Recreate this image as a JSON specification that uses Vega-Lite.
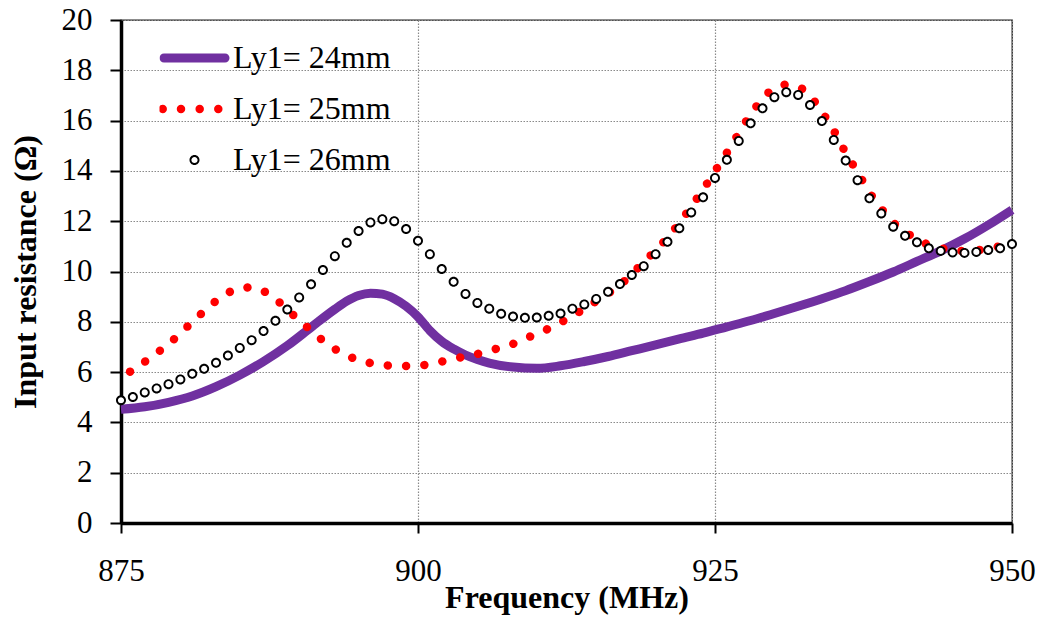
{
  "$schema": "https://vega.github.io/schema/vega-lite/v6.json",
  "width": 891,
  "height": 503,
  "autosize": "none",
  "padding": {"left": 121, "top": 20, "right": 31, "bottom": 95},
  "background": "white",
  "config": {
    "font": "Liberation Serif",
    "view": {"stroke": "#1a1a1a", "strokeWidth": 1.3}
  },
  "datasets": {
    "curves": [
      {"f": 875, "r": 4.52, "series": "Ly1= 24mm"},
      {"f": 877, "r": 4.62, "series": "Ly1= 24mm"},
      {"f": 879, "r": 4.80, "series": "Ly1= 24mm"},
      {"f": 881, "r": 5.05, "series": "Ly1= 24mm"},
      {"f": 883, "r": 5.42, "series": "Ly1= 24mm"},
      {"f": 885, "r": 5.88, "series": "Ly1= 24mm"},
      {"f": 887, "r": 6.42, "series": "Ly1= 24mm"},
      {"f": 889, "r": 7.05, "series": "Ly1= 24mm"},
      {"f": 891, "r": 7.78, "series": "Ly1= 24mm"},
      {"f": 893, "r": 8.50, "series": "Ly1= 24mm"},
      {"f": 894, "r": 8.82, "series": "Ly1= 24mm"},
      {"f": 895, "r": 9.05, "series": "Ly1= 24mm"},
      {"f": 896, "r": 9.14, "series": "Ly1= 24mm"},
      {"f": 897, "r": 9.10, "series": "Ly1= 24mm"},
      {"f": 898, "r": 8.92, "series": "Ly1= 24mm"},
      {"f": 899, "r": 8.62, "series": "Ly1= 24mm"},
      {"f": 900, "r": 8.20, "series": "Ly1= 24mm"},
      {"f": 901, "r": 7.65, "series": "Ly1= 24mm"},
      {"f": 902, "r": 7.22, "series": "Ly1= 24mm"},
      {"f": 903, "r": 6.92, "series": "Ly1= 24mm"},
      {"f": 904, "r": 6.68, "series": "Ly1= 24mm"},
      {"f": 905, "r": 6.50, "series": "Ly1= 24mm"},
      {"f": 906, "r": 6.36, "series": "Ly1= 24mm"},
      {"f": 908, "r": 6.20, "series": "Ly1= 24mm"},
      {"f": 910, "r": 6.15, "series": "Ly1= 24mm"},
      {"f": 912, "r": 6.25, "series": "Ly1= 24mm"},
      {"f": 914, "r": 6.42, "series": "Ly1= 24mm"},
      {"f": 916, "r": 6.62, "series": "Ly1= 24mm"},
      {"f": 918, "r": 6.85, "series": "Ly1= 24mm"},
      {"f": 920, "r": 7.08, "series": "Ly1= 24mm"},
      {"f": 922, "r": 7.32, "series": "Ly1= 24mm"},
      {"f": 924, "r": 7.55, "series": "Ly1= 24mm"},
      {"f": 926, "r": 7.80, "series": "Ly1= 24mm"},
      {"f": 928, "r": 8.05, "series": "Ly1= 24mm"},
      {"f": 930, "r": 8.33, "series": "Ly1= 24mm"},
      {"f": 932, "r": 8.62, "series": "Ly1= 24mm"},
      {"f": 934, "r": 8.92, "series": "Ly1= 24mm"},
      {"f": 936, "r": 9.24, "series": "Ly1= 24mm"},
      {"f": 938, "r": 9.60, "series": "Ly1= 24mm"},
      {"f": 940, "r": 9.98, "series": "Ly1= 24mm"},
      {"f": 942, "r": 10.40, "series": "Ly1= 24mm"},
      {"f": 944, "r": 10.82, "series": "Ly1= 24mm"},
      {"f": 946, "r": 11.30, "series": "Ly1= 24mm"},
      {"f": 948, "r": 11.85, "series": "Ly1= 24mm"},
      {"f": 950, "r": 12.45, "series": "Ly1= 24mm"},

      {"f": 875, "r": 5.72, "series": "Ly1= 25mm"},
      {"f": 876, "r": 6.10, "series": "Ly1= 25mm"},
      {"f": 877, "r": 6.41, "series": "Ly1= 25mm"},
      {"f": 878, "r": 6.75, "series": "Ly1= 25mm"},
      {"f": 879, "r": 7.13, "series": "Ly1= 25mm"},
      {"f": 880, "r": 7.53, "series": "Ly1= 25mm"},
      {"f": 881, "r": 8.00, "series": "Ly1= 25mm"},
      {"f": 882, "r": 8.42, "series": "Ly1= 25mm"},
      {"f": 883, "r": 8.83, "series": "Ly1= 25mm"},
      {"f": 884, "r": 9.15, "series": "Ly1= 25mm"},
      {"f": 885, "r": 9.33, "series": "Ly1= 25mm"},
      {"f": 886, "r": 9.37, "series": "Ly1= 25mm"},
      {"f": 887, "r": 9.22, "series": "Ly1= 25mm"},
      {"f": 888, "r": 8.90, "series": "Ly1= 25mm"},
      {"f": 889, "r": 8.50, "series": "Ly1= 25mm"},
      {"f": 890, "r": 8.05, "series": "Ly1= 25mm"},
      {"f": 891, "r": 7.66, "series": "Ly1= 25mm"},
      {"f": 892, "r": 7.25, "series": "Ly1= 25mm"},
      {"f": 893, "r": 6.92, "series": "Ly1= 25mm"},
      {"f": 894, "r": 6.66, "series": "Ly1= 25mm"},
      {"f": 895, "r": 6.48, "series": "Ly1= 25mm"},
      {"f": 896, "r": 6.36, "series": "Ly1= 25mm"},
      {"f": 897, "r": 6.28, "series": "Ly1= 25mm"},
      {"f": 898, "r": 6.25, "series": "Ly1= 25mm"},
      {"f": 899, "r": 6.24, "series": "Ly1= 25mm"},
      {"f": 900, "r": 6.25, "series": "Ly1= 25mm"},
      {"f": 901, "r": 6.32, "series": "Ly1= 25mm"},
      {"f": 902, "r": 6.42, "series": "Ly1= 25mm"},
      {"f": 903, "r": 6.53, "series": "Ly1= 25mm"},
      {"f": 904, "r": 6.62, "series": "Ly1= 25mm"},
      {"f": 905, "r": 6.72, "series": "Ly1= 25mm"},
      {"f": 906, "r": 6.85, "series": "Ly1= 25mm"},
      {"f": 907, "r": 6.98, "series": "Ly1= 25mm"},
      {"f": 908, "r": 7.12, "series": "Ly1= 25mm"},
      {"f": 909, "r": 7.33, "series": "Ly1= 25mm"},
      {"f": 910, "r": 7.52, "series": "Ly1= 25mm"},
      {"f": 911, "r": 7.73, "series": "Ly1= 25mm"},
      {"f": 912, "r": 7.97, "series": "Ly1= 25mm"},
      {"f": 913, "r": 8.23, "series": "Ly1= 25mm"},
      {"f": 914, "r": 8.52, "series": "Ly1= 25mm"},
      {"f": 915, "r": 8.82, "series": "Ly1= 25mm"},
      {"f": 916, "r": 9.13, "series": "Ly1= 25mm"},
      {"f": 917, "r": 9.46, "series": "Ly1= 25mm"},
      {"f": 918, "r": 9.90, "series": "Ly1= 25mm"},
      {"f": 919, "r": 10.38, "series": "Ly1= 25mm"},
      {"f": 920, "r": 10.83, "series": "Ly1= 25mm"},
      {"f": 921, "r": 11.35, "series": "Ly1= 25mm"},
      {"f": 922, "r": 11.93, "series": "Ly1= 25mm"},
      {"f": 923, "r": 12.58, "series": "Ly1= 25mm"},
      {"f": 924, "r": 13.26, "series": "Ly1= 25mm"},
      {"f": 925, "r": 13.99, "series": "Ly1= 25mm"},
      {"f": 926, "r": 14.72, "series": "Ly1= 25mm"},
      {"f": 927, "r": 15.50, "series": "Ly1= 25mm"},
      {"f": 928, "r": 16.25, "series": "Ly1= 25mm"},
      {"f": 929, "r": 16.86, "series": "Ly1= 25mm"},
      {"f": 930, "r": 17.30, "series": "Ly1= 25mm"},
      {"f": 931, "r": 17.43, "series": "Ly1= 25mm"},
      {"f": 932, "r": 17.35, "series": "Ly1= 25mm"},
      {"f": 933, "r": 16.98, "series": "Ly1= 25mm"},
      {"f": 934, "r": 16.35, "series": "Ly1= 25mm"},
      {"f": 935, "r": 15.60, "series": "Ly1= 25mm"},
      {"f": 936, "r": 14.72, "series": "Ly1= 25mm"},
      {"f": 937, "r": 13.95, "series": "Ly1= 25mm"},
      {"f": 938, "r": 13.15, "series": "Ly1= 25mm"},
      {"f": 939, "r": 12.50, "series": "Ly1= 25mm"},
      {"f": 940, "r": 11.95, "series": "Ly1= 25mm"},
      {"f": 941, "r": 11.58, "series": "Ly1= 25mm"},
      {"f": 942, "r": 11.28, "series": "Ly1= 25mm"},
      {"f": 943, "r": 11.06, "series": "Ly1= 25mm"},
      {"f": 944, "r": 10.93, "series": "Ly1= 25mm"},
      {"f": 945, "r": 10.85, "series": "Ly1= 25mm"},
      {"f": 946, "r": 10.81, "series": "Ly1= 25mm"},
      {"f": 947, "r": 10.84, "series": "Ly1= 25mm"},
      {"f": 948, "r": 10.92, "series": "Ly1= 25mm"},
      {"f": 949, "r": 11.00, "series": "Ly1= 25mm"},
      {"f": 950, "r": 11.07, "series": "Ly1= 25mm"},

      {"f": 875, "r": 4.88, "series": "Ly1= 26mm"},
      {"f": 876, "r": 5.01, "series": "Ly1= 26mm"},
      {"f": 877, "r": 5.19, "series": "Ly1= 26mm"},
      {"f": 878, "r": 5.35, "series": "Ly1= 26mm"},
      {"f": 879, "r": 5.52, "series": "Ly1= 26mm"},
      {"f": 880, "r": 5.71, "series": "Ly1= 26mm"},
      {"f": 881, "r": 5.93, "series": "Ly1= 26mm"},
      {"f": 882, "r": 6.13, "series": "Ly1= 26mm"},
      {"f": 883, "r": 6.37, "series": "Ly1= 26mm"},
      {"f": 884, "r": 6.66, "series": "Ly1= 26mm"},
      {"f": 885, "r": 6.96, "series": "Ly1= 26mm"},
      {"f": 886, "r": 7.27, "series": "Ly1= 26mm"},
      {"f": 887, "r": 7.63, "series": "Ly1= 26mm"},
      {"f": 888, "r": 8.04, "series": "Ly1= 26mm"},
      {"f": 889, "r": 8.49, "series": "Ly1= 26mm"},
      {"f": 890, "r": 8.97, "series": "Ly1= 26mm"},
      {"f": 891, "r": 9.49, "series": "Ly1= 26mm"},
      {"f": 892, "r": 10.06, "series": "Ly1= 26mm"},
      {"f": 893, "r": 10.61, "series": "Ly1= 26mm"},
      {"f": 894, "r": 11.14, "series": "Ly1= 26mm"},
      {"f": 895, "r": 11.61, "series": "Ly1= 26mm"},
      {"f": 896, "r": 11.95, "series": "Ly1= 26mm"},
      {"f": 897, "r": 12.08, "series": "Ly1= 26mm"},
      {"f": 898, "r": 12.00, "series": "Ly1= 26mm"},
      {"f": 899, "r": 11.69, "series": "Ly1= 26mm"},
      {"f": 900, "r": 11.22, "series": "Ly1= 26mm"},
      {"f": 901, "r": 10.69, "series": "Ly1= 26mm"},
      {"f": 902, "r": 10.10, "series": "Ly1= 26mm"},
      {"f": 903, "r": 9.59, "series": "Ly1= 26mm"},
      {"f": 904, "r": 9.11, "series": "Ly1= 26mm"},
      {"f": 905, "r": 8.75, "series": "Ly1= 26mm"},
      {"f": 906, "r": 8.52, "series": "Ly1= 26mm"},
      {"f": 907, "r": 8.32, "series": "Ly1= 26mm"},
      {"f": 908, "r": 8.21, "series": "Ly1= 26mm"},
      {"f": 909, "r": 8.16, "series": "Ly1= 26mm"},
      {"f": 910, "r": 8.17, "series": "Ly1= 26mm"},
      {"f": 911, "r": 8.24, "series": "Ly1= 26mm"},
      {"f": 912, "r": 8.33, "series": "Ly1= 26mm"},
      {"f": 913, "r": 8.52, "series": "Ly1= 26mm"},
      {"f": 914, "r": 8.69, "series": "Ly1= 26mm"},
      {"f": 915, "r": 8.91, "series": "Ly1= 26mm"},
      {"f": 916, "r": 9.19, "series": "Ly1= 26mm"},
      {"f": 917, "r": 9.50, "series": "Ly1= 26mm"},
      {"f": 918, "r": 9.86, "series": "Ly1= 26mm"},
      {"f": 919, "r": 10.21, "series": "Ly1= 26mm"},
      {"f": 920, "r": 10.69, "series": "Ly1= 26mm"},
      {"f": 921, "r": 11.18, "series": "Ly1= 26mm"},
      {"f": 922, "r": 11.72, "series": "Ly1= 26mm"},
      {"f": 923, "r": 12.35, "series": "Ly1= 26mm"},
      {"f": 924, "r": 12.95, "series": "Ly1= 26mm"},
      {"f": 925, "r": 13.72, "series": "Ly1= 26mm"},
      {"f": 926, "r": 14.44, "series": "Ly1= 26mm"},
      {"f": 927, "r": 15.19, "series": "Ly1= 26mm"},
      {"f": 928, "r": 15.89, "series": "Ly1= 26mm"},
      {"f": 929, "r": 16.49, "series": "Ly1= 26mm"},
      {"f": 930, "r": 16.93, "series": "Ly1= 26mm"},
      {"f": 931, "r": 17.13, "series": "Ly1= 26mm"},
      {"f": 932, "r": 17.02, "series": "Ly1= 26mm"},
      {"f": 933, "r": 16.62, "series": "Ly1= 26mm"},
      {"f": 934, "r": 15.98, "series": "Ly1= 26mm"},
      {"f": 935, "r": 15.23, "series": "Ly1= 26mm"},
      {"f": 936, "r": 14.41, "series": "Ly1= 26mm"},
      {"f": 937, "r": 13.63, "series": "Ly1= 26mm"},
      {"f": 938, "r": 12.91, "series": "Ly1= 26mm"},
      {"f": 939, "r": 12.31, "series": "Ly1= 26mm"},
      {"f": 940, "r": 11.78, "series": "Ly1= 26mm"},
      {"f": 941, "r": 11.42, "series": "Ly1= 26mm"},
      {"f": 942, "r": 11.16, "series": "Ly1= 26mm"},
      {"f": 943, "r": 10.92, "series": "Ly1= 26mm"},
      {"f": 944, "r": 10.82, "series": "Ly1= 26mm"},
      {"f": 945, "r": 10.76, "series": "Ly1= 26mm"},
      {"f": 946, "r": 10.74, "series": "Ly1= 26mm"},
      {"f": 947, "r": 10.78, "series": "Ly1= 26mm"},
      {"f": 948, "r": 10.85, "series": "Ly1= 26mm"},
      {"f": 949, "r": 10.92, "series": "Ly1= 26mm"},
      {"f": 950, "r": 11.09, "series": "Ly1= 26mm"}
    ]
  },
  "data": {"name": "curves"},
  "encoding": {
    "x": {
      "field": "f",
      "type": "quantitative",
      "scale": {"domain": [875, 950], "nice": false, "zero": false},
      "axis": {
        "values": [875, 900, 925, 950],
        "title": "Frequency (MHz)",
        "grid": true,
        "gridDash": [1.5, 1.5],
        "gridColor": "#8a8a8a",
        "gridWidth": 1.2,
        "domainColor": "#000000",
        "domainWidth": 3.5,
        "tickColor": "#000000",
        "tickWidth": 2,
        "tickSize": 10,
        "labelFont": "Liberation Serif",
        "labelFontSize": 31,
        "labelColor": "#000000",
        "labelPadding": 23,
        "labelFlush": false,
        "labelOverlap": false,
        "titleFont": "Liberation Serif",
        "titleFontSize": 32,
        "titleFontWeight": "bold",
        "titleColor": "#000000",
        "titleBaseline": "alphabetic",
        "titleY": 84
      }
    },
    "y": {
      "field": "r",
      "type": "quantitative",
      "scale": {"domain": [0, 20], "nice": false},
      "axis": {
        "values": [0, 2, 4, 6, 8, 10, 12, 14, 16, 18, 20],
        "title": "Input resistance (Ω)",
        "grid": true,
        "gridDash": [1.5, 1.5],
        "gridColor": "#8a8a8a",
        "gridWidth": 1.2,
        "domainColor": "#000000",
        "domainWidth": 3.5,
        "tickColor": "#000000",
        "tickWidth": 2,
        "tickSize": 11,
        "labelFont": "Liberation Serif",
        "labelFontSize": 31,
        "labelColor": "#000000",
        "labelPadding": 18,
        "labelOverlap": false,
        "titleFont": "Liberation Serif",
        "titleFontSize": 32,
        "titleFontWeight": "bold",
        "titleColor": "#000000",
        "titleAngle": 270,
        "titleAlign": "center",
        "titleBaseline": "alphabetic",
        "titleX": -86,
        "titleY": 251.5
      }
    }
  },
  "layer": [
    {
      "transform": [{"filter": "datum.series === 'Ly1= 24mm'"}],
      "mark": {"type": "line", "color": "#7030a0", "strokeWidth": 9, "interpolate": "monotone", "strokeCap": "butt", "strokeJoin": "round"}
    },
    {
      "transform": [{"filter": "datum.series === 'Ly1= 25mm'"}],
      "mark": {"type": "line", "color": "#ff0000", "strokeWidth": 8.5, "strokeDash": [0.01, 18.3], "strokeDashOffset": 6.7, "strokeCap": "round", "interpolate": "monotone"}
    },
    {
      "transform": [{"filter": "datum.series === 'Ly1= 26mm'"}],
      "mark": {"type": "point", "shape": "circle", "size": 45, "filled": true, "color": "#ffffff", "strokeWidth": 0, "opacity": 1}
    },
    {
      "transform": [{"filter": "datum.series === 'Ly1= 26mm'"}],
      "mark": {"type": "point", "size": 100, "filled": true, "strokeWidth": 0, "opacity": 1},
      "encoding": {
        "color": {
          "field": "series",
          "type": "nominal",
          "scale": {
            "domain": ["Ly1= 24mm", "Ly1= 25mm", "Ly1= 26mm"],
            "range": ["#7030a0", "#ff0000", "#000000"]
          },
          "legend": {
            "title": null,
            "orient": "none",
            "legendX": 38.5,
            "legendY": 12.5,
            "padding": 0,
            "symbolSize": 100,
            "symbolStrokeWidth": 60,
            "symbolStrokeColor": "transparent",
            "symbolOpacity": 1,
            "clipHeight": 51,
            "rowPadding": 0,
            "labelFont": "Liberation Serif",
            "labelFontSize": 32,
            "labelColor": "#000000",
            "labelOffset": 3.5,
            "labelLimit": 400
          }
        },
        "shape": {
          "field": "series",
          "type": "nominal",
          "scale": {
            "domain": ["Ly1= 24mm", "Ly1= 25mm", "Ly1= 26mm"],
            "range": [
              "M-6.1,-0.9H6.1A0.9,0.9,0,0,1,6.1,0.9H-6.1A0.9,0.9,0,0,1,-6.1,-0.9Z",
              "M-7.21,0A0.85,0.85,0,1,0,-5.51,0A0.85,0.85,0,1,0,-7.21,0ZM-3.55,0A0.85,0.85,0,1,0,-1.85,0A0.85,0.85,0,1,0,-3.55,0ZM0.19,0A0.85,0.85,0,1,0,1.89,0A0.85,0.85,0,1,0,0.19,0ZM3.91,0A0.85,0.85,0,1,0,5.61,0A0.85,0.85,0,1,0,3.91,0Z",
              "M-1,0A1,1,0,1,1,1,0A1,1,0,1,1,-1,0ZM-0.62,0A0.62,0.62,0,1,0,0.62,0A0.62,0.62,0,1,0,-0.62,0Z"
            ]
          },
          "legend": {
            "title": null,
            "orient": "none",
            "legendX": 38.5,
            "legendY": 12.5,
            "padding": 0,
            "symbolSize": 100,
            "symbolStrokeWidth": 60,
            "symbolStrokeColor": "transparent",
            "symbolOpacity": 1,
            "clipHeight": 51,
            "rowPadding": 0,
            "labelFont": "Liberation Serif",
            "labelFontSize": 32,
            "labelColor": "#000000",
            "labelOffset": 3.5,
            "labelLimit": 400
          }
        }
      }
    }
  ]
}
